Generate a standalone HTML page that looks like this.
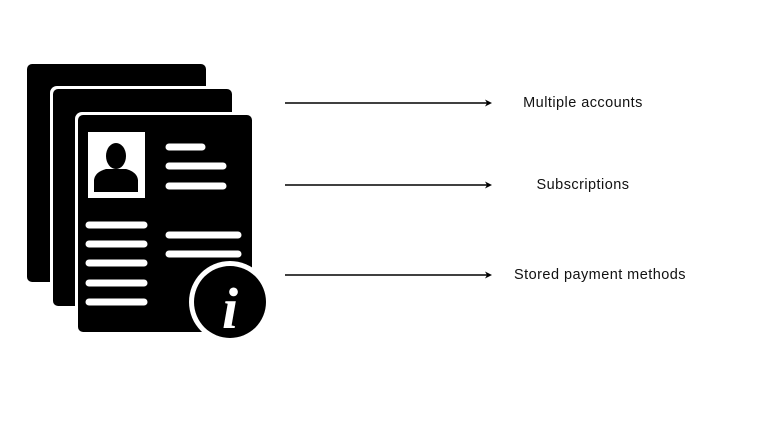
<!DOCTYPE html>
<html><head><style>
body{margin:0;width:768px;height:430px;background:#fff;position:relative;overflow:hidden;font-family:"Liberation Sans",sans-serif}
.t{position:absolute;font-size:14.5px;letter-spacing:0.45px;color:#111;white-space:nowrap;transform:translateX(-50%)}
</style></head><body>
<svg width="768" height="430" style="position:absolute;left:0;top:0">
<rect x="27" y="64" width="179" height="218" rx="5" fill="#000"/>
<rect x="50" y="86" width="185" height="223" rx="7" fill="#fff"/>
<rect x="53" y="89" width="179" height="217" rx="5" fill="#000"/>
<rect x="75" y="112" width="180" height="223" rx="7" fill="#fff"/>
<rect x="78" y="115" width="174" height="217" rx="5" fill="#000"/>
<rect x="88" y="132" width="57" height="66" fill="#fff"/>
<ellipse cx="116" cy="156" rx="10" ry="13" fill="#000"/>
<path d="M94 192 L94 180 Q95 172 106 169 L126 169 Q137 172 138 180 L138 192 Z" fill="#000"/>
<g stroke="#fff" stroke-width="7" stroke-linecap="round">
<line x1="169" y1="147" x2="202" y2="147"/>
<line x1="169" y1="166" x2="223" y2="166"/>
<line x1="169" y1="186" x2="223" y2="186"/>
<line x1="89" y1="225" x2="144" y2="225"/>
<line x1="89" y1="244" x2="144" y2="244"/>
<line x1="89" y1="263" x2="144" y2="263"/>
<line x1="89" y1="283" x2="144" y2="283"/>
<line x1="89" y1="302" x2="144" y2="302"/>
<line x1="169" y1="235" x2="238" y2="235"/>
<line x1="169" y1="254" x2="238" y2="254"/>
</g>
<circle cx="230" cy="302" r="41" fill="#fff"/>
<circle cx="230" cy="302" r="36" fill="#000"/>
<text x="230" y="328" text-anchor="middle" font-family="Liberation Serif" font-style="italic" font-weight="bold" font-size="58" fill="#fff">i</text>
<g stroke="#000" stroke-width="1.5">
<line x1="285" y1="103" x2="488" y2="103"/>
<line x1="285" y1="185" x2="488" y2="185"/>
<line x1="285" y1="275" x2="488" y2="275"/>
</g>
<g fill="#000">
<path d="M492 103 L485 99.5 L487 103 L485 106.5Z"/>
<path d="M492 185 L485 181.5 L487 185 L485 188.5Z"/>
<path d="M492 275 L485 271.5 L487 275 L485 278.5Z"/>
</g>
</svg>
<div class="t" style="left:583px;top:95px">Multiple accounts</div>
<div class="t" style="left:583px;top:177px">Subscriptions</div>
<div class="t" style="left:600px;top:267px">Stored payment methods</div>
</body></html>
